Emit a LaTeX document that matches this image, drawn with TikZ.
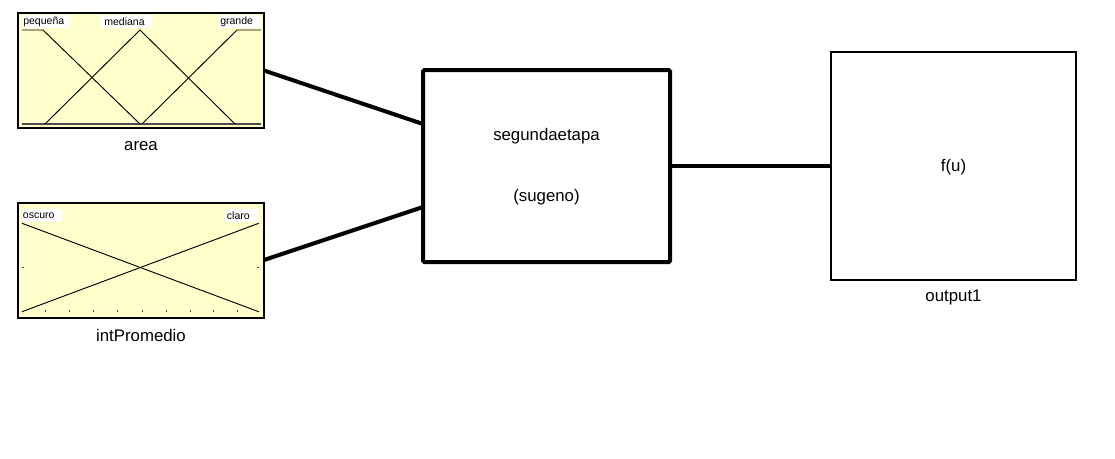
\documentclass[tikz,border=0pt]{standalone}
\usepackage{fontspec}
\setmainfont{Liberation Sans}
\usetikzlibrary{calc}
\definecolor{mfbg}{RGB}{255,255,204}
\begin{document}
\begin{tikzpicture}[x=0.75pt,y=-0.75pt,
  varbox/.style={draw=black, line width=1.5pt, fill=mfbg, minimum width=184.5pt,
    minimum height=86.25pt, inner sep=0pt, outer sep=0pt},
  fisbox/.style={draw=black, line width=3pt, fill=white, rounded corners=1pt,
    minimum width=185.25pt, minimum height=144pt, inner sep=0pt, outer sep=0pt},
  outbox/.style={draw=black, line width=1.1pt, fill=white,
    minimum width=183.75pt, minimum height=171pt, inner sep=0pt, outer sep=0pt},
  caption/.style={font=\fontsize{12.6}{15}\selectfont, inner sep=0pt},
  mflab/.style={font=\fontsize{7.9}{9}\selectfont, inner sep=0pt, anchor=west},
  mfcurve/.style={draw=black, line width=0.7pt},
  axisline/.style={draw=black!70, line width=0.9pt},
  wire/.style={draw=black, line width=3pt},
  tick/.style={draw=black!70, line width=0.5pt}]
\useasboundingbox (0,0) rectangle (1115,458);

% input variable: area
\node[varbox] (area) at (141,70.5) {};
\draw[axisline] (22,124) -- (261,124);
\draw[mfcurve] (22,30) -- (43,30) -- (140,124);
\draw[mfcurve] (45,124) -- (140,30) -- (235,124);
\draw[mfcurve] (142,124) -- (237,30) -- (261,30);
\fill[white] (22,15) rectangle (70,28);
\fill[white] (100,15) rectangle (152,28);
\fill[white] (218,15) rectangle (261,28);
\node[mflab] (lpeq) at (23,22) {pequeña};
\node[mflab] (lmed) at (104,22) {mediana};
\node[mflab] (lgra) at (220,22) {grande};
\node[caption] (areacap) at (141,146) {area};

% input variable: intPromedio
\node[varbox] (intp) at (141,260) {};
\draw[mfcurve] (22,223.3) -- (258.7,311.7);
\draw[mfcurve] (22,311.7) -- (258.7,223.3);
\foreach \tx in {45,69,93,117,142,166,190,213,237}
  \draw[tick] (\tx,312) -- (\tx,310);
\draw[tick] (22,267) -- (24,267);
\draw[tick] (256.5,267) -- (258.5,267);
\fill[white] (22,209) rectangle (62,221.7);
\fill[white] (225,209) rectangle (258,221.7);
\node[mflab] (losc) at (22.7,216) {oscuro};
\node[mflab] (lcla) at (226.7,216) {claro};
\node[caption] (intpcap) at (141,335) {intPromedio};

% inference system
\node[fisbox] (fis) at (546.5,166) {};
\node[caption] at (546.5,136) {segundaetapa};
\node[caption] at (546.5,197) {(sugeno)};

% output variable
\node[outbox] (out) at (953.5,166) {};
\node[caption] at (953.5,167) {f(u)};
\node[caption] (outcap) at (953.5,297) {output1};

% connections
\coordinate (fisin1) at ($(fis.west)+(0,-42)$);
\coordinate (fisin2) at ($(fis.west)+(0,41)$);
\draw[wire] (area.east) -- (fisin1);
\draw[wire] (intp.east) -- (fisin2);
\draw[wire] (fis.east) -- (out.west);
\end{tikzpicture}
\end{document}
